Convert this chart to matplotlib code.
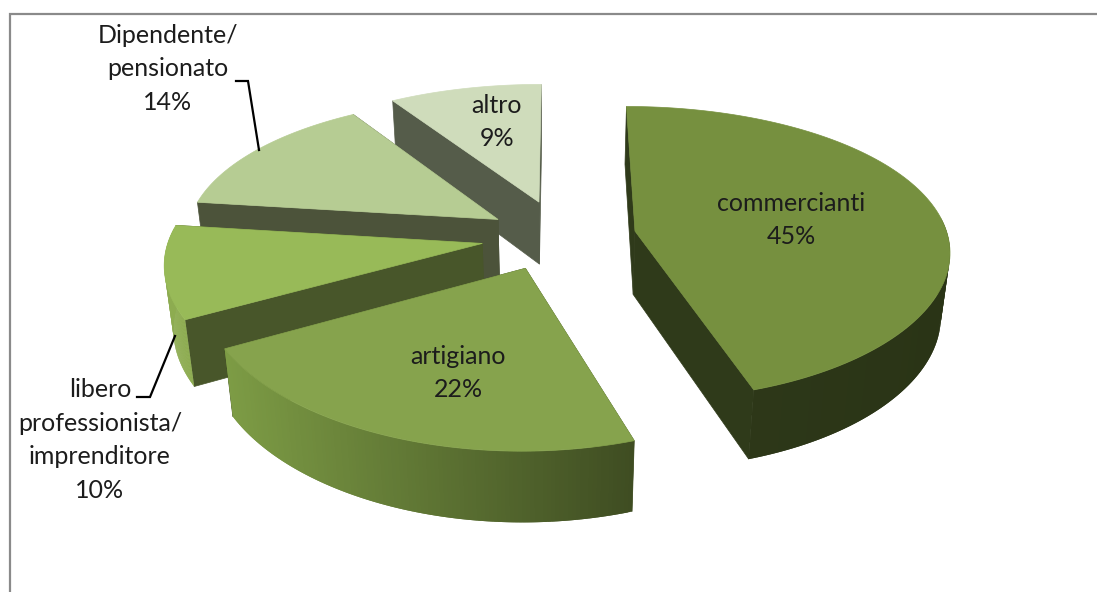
import numpy as np
import matplotlib
matplotlib.use("Agg")
import matplotlib.pyplot as plt
from matplotlib.colors import to_rgb

plt.rcParams['font.family'] = ['Lato', 'DejaVu Sans']

# shares in percent, clockwise from 12 o'clock
names = ["commercianti", "artigiano", "libero\nprofessionista/\nimprenditore",
         "Dipendente/\npensionato", "altro"]
values = [45, 22, 10, 14, 9]
explode = [0.26, 0.225, 0.235, 0.23, 0.26]
nudge_x = [0, -3, 0, 3, 6]

top_colors = ["#76903f", "#86a34d", "#98ba58", "#b6cc93", "#cfdcbb"]
cut_colors = ["#2f3a1a", "#3f4d22", "#48562a", "#4c533a", "#555c4a"]
wall_left = ["#2f3a1a", "#7d9c45", "#8dac50", "#a0b87a", "#b5c4a0"]
wall_right = ["#2a3416", "#3f4d22", "#8dac50", "#a0b87a", "#b5c4a0"]

# text placement, leader lines
label_pos = [(791, 220), (458, 373), (100, 440), (168, 69), (497, 122)]
leaders = [None, None, ([137, 150, 175], [397, 397, 336]),
           ([236, 248, 259], [81, 81, 150]), None]

# projection of the tilted disc
cx, cy = 555, 237
a, b = 313, 145
depth = 65
k_x = 0.12
k_y = 0.15
k_down = 0.0235


def project(x, y, z=0):
    sx = cx + a * x / (1 + k_x * y + k_down * z)
    w = 1 + k_y * y + k_down * z
    sy = cy - b * y / w + z * depth / w
    return sx, sy


def mix(c1, c2, t):
    c1, c2 = np.array(to_rgb(c1)), np.array(to_rgb(c2))
    return tuple(c1 + (c2 - c1) * t)


fig = plt.figure(figsize=(10.97, 5.92), dpi=100)
ax = fig.add_axes([0, 0, 1, 1])
ax.set_xlim(0, 1097)
ax.set_ylim(592, 0)
ax.axis("off")

# chart area border, only top and left are in frame
ax.plot([10, 10, 1097], [592, 14, 14], color="#8a8a8a", lw=1.6, solid_joinstyle="miter")

edges = np.cumsum([0] + values) / sum(values) * 2 * np.pi

# back slices first
for i in range(len(values) - 1, -1, -1):
    t0, t1 = edges[i], edges[i + 1]
    mid = (t0 + t1) / 2
    ex = explode[i] * np.sin(mid)
    ey = explode[i] * np.cos(mid)
    th = np.linspace(t0, t1, 120)
    xs = ex + np.sin(th)
    ys = ey + np.cos(th)

    tx, ty = project(xs, ys, 0)
    bx, by = project(xs, ys, 1)
    ax0, ay0 = project(ex, ey, 0)
    ax1, ay1 = project(ex, ey, 1)
    tx, bx = tx + nudge_x[i], bx + nudge_x[i]
    ax0, ax1 = ax0 + nudge_x[i], ax1 + nudge_x[i]

    # two cut faces
    for j in (0, -1):
        ax.fill([ax0, tx[j], bx[j], ax1], [ay0, ty[j], by[j], ay1],
                color=cut_colors[i], lw=0.5, zorder=i * -10 + 1)

    # outer wall in overlapping strips, only the front part faces the viewer
    span = max(tx.max() - tx.min(), 1)
    for j in range(len(th) - 1):
        if np.cos(th[j]) > 0.1:
            continue
        f = (tx[j] - tx.min()) / span
        c = mix(wall_left[i], wall_right[i], f)
        k = min(j + 3, len(th))
        ax.fill(np.r_[tx[j:k], bx[j:k][::-1]], np.r_[ty[j:k], by[j:k][::-1]],
                color=c, lw=0, zorder=i * -10 + 2)

    ax.fill(np.r_[ax0, tx], np.r_[ay0, ty], color=top_colors[i], lw=0.5, zorder=i * -10 + 3)

    lx, ly = label_pos[i]
    ax.text(lx, ly, f"{names[i]}\n{values[i]}%", ha="center", va="center", fontsize=18,
            color="#1c1c1c", linespacing=1.55, zorder=20)
    if leaders[i] is not None:
        ax.plot(leaders[i][0], leaders[i][1], color="black", lw=1.6, zorder=19,
                solid_joinstyle="miter")

fig.savefig("out.png", dpi=100)
